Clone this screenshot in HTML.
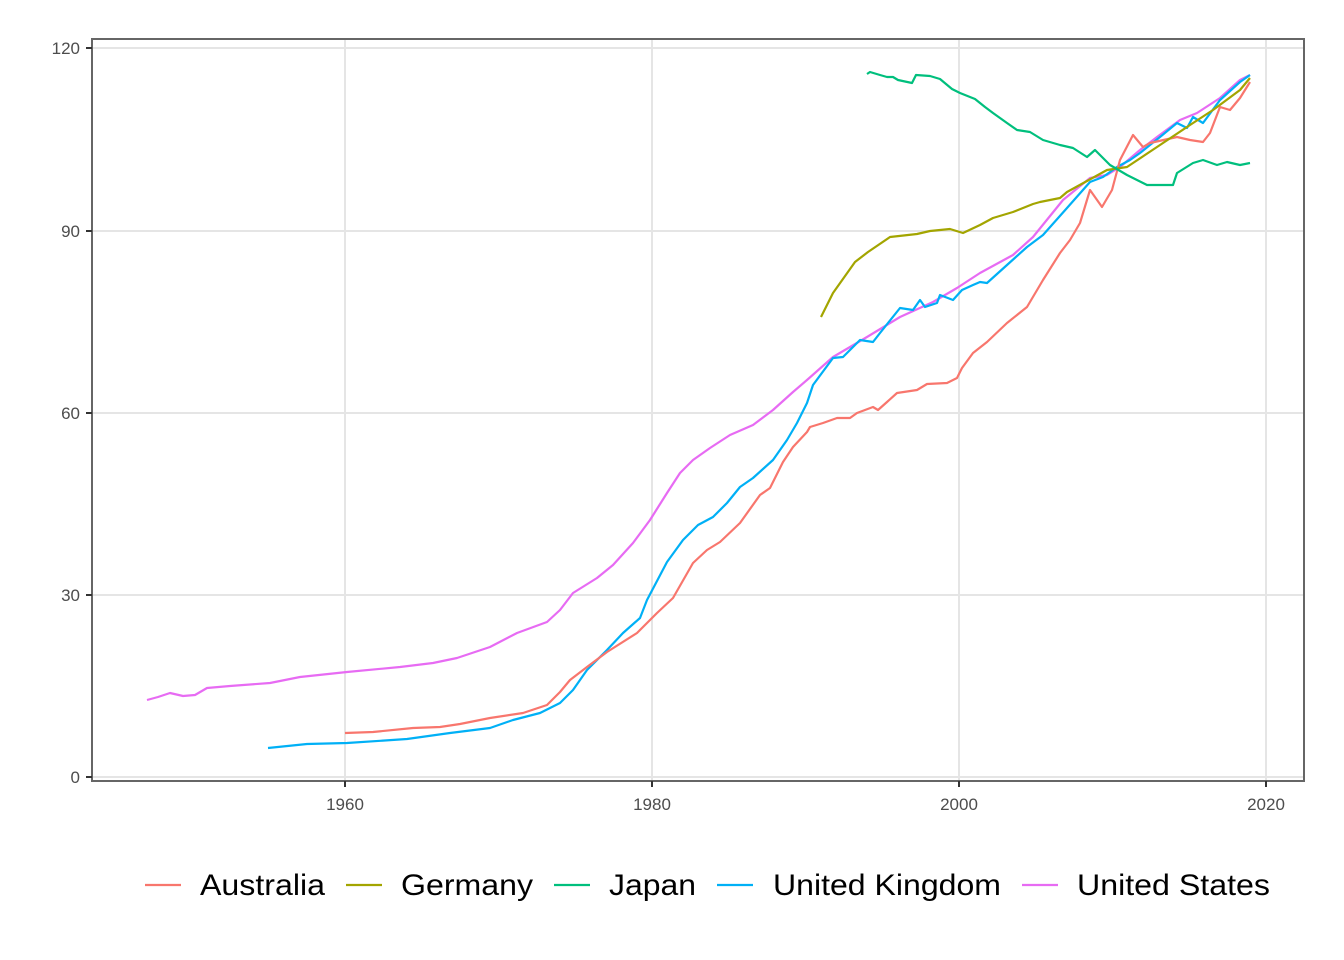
<!DOCTYPE html>
<html><head><meta charset="utf-8"><style>
html,body{margin:0;padding:0;background:#fff}
svg{display:block;font-family:"Liberation Sans",Arial,sans-serif}
</style></head><body>
<svg width="1344" height="960" viewBox="0 0 1344 960" xmlns="http://www.w3.org/2000/svg">
<rect width="1344" height="960" fill="#fff"/>
<g stroke="#e5e5e5" stroke-width="2">
<line x1="92" x2="1304" y1="777" y2="777"/><line x1="92" x2="1304" y1="595" y2="595"/>
<line x1="92" x2="1304" y1="413" y2="413"/><line x1="92" x2="1304" y1="231" y2="231"/>
<line x1="92" x2="1304" y1="48" y2="48"/>
<line x1="345" x2="345" y1="39" y2="781"/><line x1="652" x2="652" y1="39" y2="781"/>
<line x1="959" x2="959" y1="39" y2="781"/><line x1="1266" x2="1266" y1="39" y2="781"/>
</g>
<g fill="none" stroke-width="2.2" stroke-linejoin="round">
<polyline stroke="#E76BF3" points="147,700 158,697 170,693 183,696 195,695 207,688 230,686 270,683 300,677 347,672 400,667 433,663 457,658 490,647 517,633 547,622 560,610 573,593 597,578 613,565 633,543 650,520 667,493 680,473 693,460 710,448 730,435 753,425 773,410 793,392 807,380 833,357 867,337 900,317 933,302 957,288 980,273 1013,255 1033,237 1063,200 1090,178 1107,175 1120,167 1140,150 1157,137 1180,120 1197,113 1220,98 1240,80 1250,75"/>
<polyline stroke="#00B0F6" points="268,748 307,744 347,743 407,739 450,733 490,728 513,720 540,713 560,703 573,690 587,670 607,650 623,633 640,618 647,600 667,562 683,540 698,525 713,517 727,503 740,487 753,478 773,460 787,440 797,423 807,403 813,385 833,358 843,357 860,340 873,342 880,333 900,308 913,310 920,300 925,307 937,303 940,295 953,300 962,290 973,285 980,282 987,283 1007,265 1027,247 1043,235 1067,208 1090,182 1103,177 1117,167 1130,160 1140,153 1160,137 1177,123 1187,128 1193,117 1203,123 1220,100 1240,82 1250,75"/>
<polyline stroke="#F8766D" points="345,733 373,732 413,728 440,727 460,724 490,718 523,713 547,705 560,692 570,680 587,667 607,652 637,633 657,613 673,598 693,563 707,550 720,542 740,523 760,495 770,488 783,462 793,447 807,432 810,427 823,423 837,418 850,418 857,413 873,407 878,410 887,402 897,393 917,390 927,384 947,383 957,378 962,368 973,353 987,342 1007,323 1027,307 1043,280 1060,253 1070,240 1080,223 1090,190 1102,207 1112,190 1120,160 1133,135 1143,147 1150,143 1177,137 1190,140 1203,142 1210,133 1220,107 1230,110 1240,98 1250,82"/>
<polyline stroke="#A3A500" points="821,317 833,293 855,262 868,252 890,237 917,234 930,231 950,229 963,233 980,225 993,218 1013,212 1033,204 1040,202 1060,198 1067,192 1107,170 1127,167 1157,147 1190,125 1213,110 1240,90 1250,78"/>
<polyline stroke="#00BF7D" points="867,74 870,72 880,75 887,77 893,77 898,80 912,83 916,75 930,76 940,79 952,89 960,93 975,99 985,107 993,113 1007,123 1017,130 1030,132 1043,140 1060,145 1073,148 1087,157 1095,150 1110,165 1127,175 1147,185 1173,185 1177,173 1193,163 1203,160 1217,165 1227,162 1240,165 1250,163"/>
</g>
<rect x="92" y="39" width="1212" height="742" fill="none" stroke="#666" stroke-width="2"/>
<g stroke="#333" stroke-width="2">
<line x1="86" x2="92" y1="777" y2="777"/><line x1="86" x2="92" y1="595" y2="595"/>
<line x1="86" x2="92" y1="413" y2="413"/><line x1="86" x2="92" y1="231" y2="231"/>
<line x1="86" x2="92" y1="48" y2="48"/>
<line x1="345" x2="345" y1="781" y2="787"/><line x1="652" x2="652" y1="781" y2="787"/>
<line x1="959" x2="959" y1="781" y2="787"/><line x1="1266" x2="1266" y1="781" y2="787"/>
</g>
<g fill="#4d4d4d" font-size="17" text-anchor="end">
<text x="80" y="783">0</text><text x="80" y="601">30</text><text x="80" y="419">60</text>
<text x="80" y="237">90</text><text x="80" y="54">120</text>
</g>
<g fill="#4d4d4d" font-size="17" text-anchor="middle">
<text x="345" y="810">1960</text><text x="652" y="810">1980</text>
<text x="959" y="810">2000</text><text x="1266" y="810">2020</text>
</g>
<g stroke-width="2.2">
<line x1="145" x2="181" y1="885" y2="885" stroke="#F8766D"/>
<line x1="346" x2="382" y1="885" y2="885" stroke="#A3A500"/>
<line x1="554" x2="590" y1="885" y2="885" stroke="#00BF7D"/>
<line x1="717" x2="753" y1="885" y2="885" stroke="#00B0F6"/>
<line x1="1022" x2="1058" y1="885" y2="885" stroke="#E76BF3"/>
</g>
<g fill="#000" font-size="30">
<text x="200" y="895" textLength="125" lengthAdjust="spacingAndGlyphs">Australia</text>
<text x="401" y="895" textLength="132" lengthAdjust="spacingAndGlyphs">Germany</text>
<text x="609" y="895" textLength="87" lengthAdjust="spacingAndGlyphs">Japan</text>
<text x="773" y="895" textLength="228" lengthAdjust="spacingAndGlyphs">United Kingdom</text>
<text x="1077" y="895" textLength="193" lengthAdjust="spacingAndGlyphs">United States</text>
</g>
</svg>
</body></html>
